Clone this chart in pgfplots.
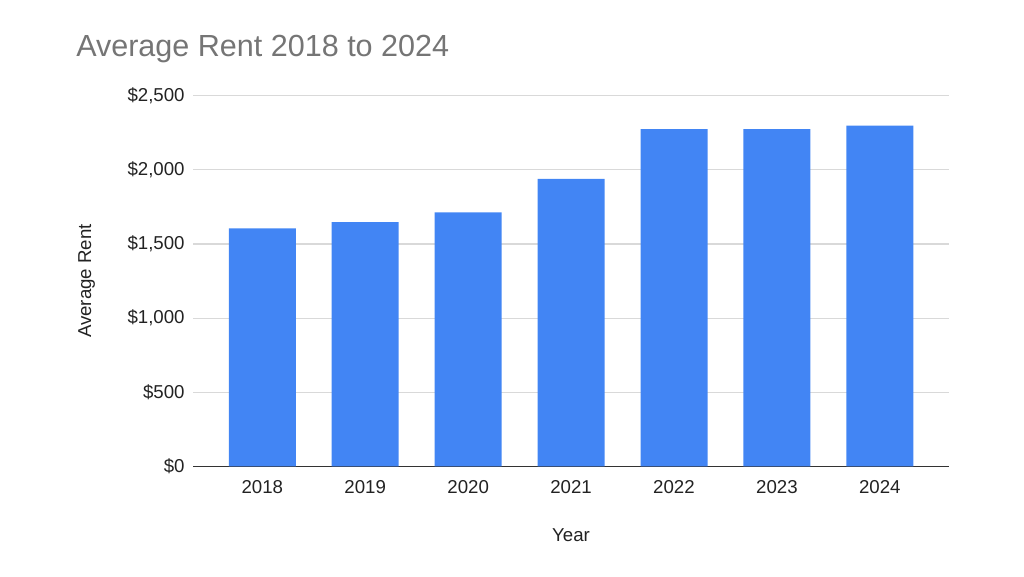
\documentclass[border=0pt]{standalone}
\usepackage{pgfplots}
\pgfplotsset{compat=1.18}
\usepackage{fontspec}
\setmainfont{Liberation Sans}
\definecolor{barblue}{HTML}{4285F4}
\definecolor{titlegray}{HTML}{757575}
\definecolor{textdark}{HTML}{222222}
\definecolor{gridgray}{HTML}{D9D9D9}
\definecolor{axisdark}{HTML}{333333}
\begin{document}
\begin{tikzpicture}[x=1pt,y=1pt]
\path[use as bounding box] (0,0) rectangle (768,432);
\node[anchor=base west, text=titlegray, font=\fontsize{22.9}{27}\selectfont, inner sep=0pt] at (57,389.5) {Average Rent 2018 to 2024};
\begin{axis}[
  at={(145pt,82.3pt)}, anchor=south west,
  scale only axis, width=566.6pt, height=277.8pt,
  ybar, bar width=50.25pt,
  xmin=-0.67, xmax=6.67, ymin=0, ymax=2500,
  xtick={0,1,2,3,4,5,6},
  xticklabels={2018,2019,2020,2021,2022,2023,2024},
  ytick={0,500,1000,1500,2000,2500},
  yticklabels={{\$0},{\$500},{\$1,000},{\$1,500},{\$2,000},{\$2,500}},
  axis line style={draw=none},
  axis x line*=bottom,
  x axis line style={draw=axisdark, line width=0.8pt},
  major tick length=0pt,
  ymajorgrids, grid style={gridgray, line width=0.8pt},
  tick label style={text=textdark, font=\fontsize{14}{16}\selectfont},
  xticklabel style={yshift=-7pt},
  yticklabel style={xshift=-3pt},
  label style={text=textdark, font=\fontsize{14}{16}\selectfont},
  xlabel={Year}, ylabel={Average Rent},
  xlabel style={at={(axis description cs:0.5,0)}, anchor=center, yshift=-52pt},
  ylabel style={at={(axis description cs:-0.1412,0.5)}, anchor=center, rotate=0},
  /pgf/number format/assume math mode=true,
]
\addplot[fill=barblue, draw=none] coordinates {
  (0,1605) (1,1648) (2,1714) (3,1939) (4,2276) (5,2276) (6,2300)
};
\end{axis}
\end{tikzpicture}
\end{document}
